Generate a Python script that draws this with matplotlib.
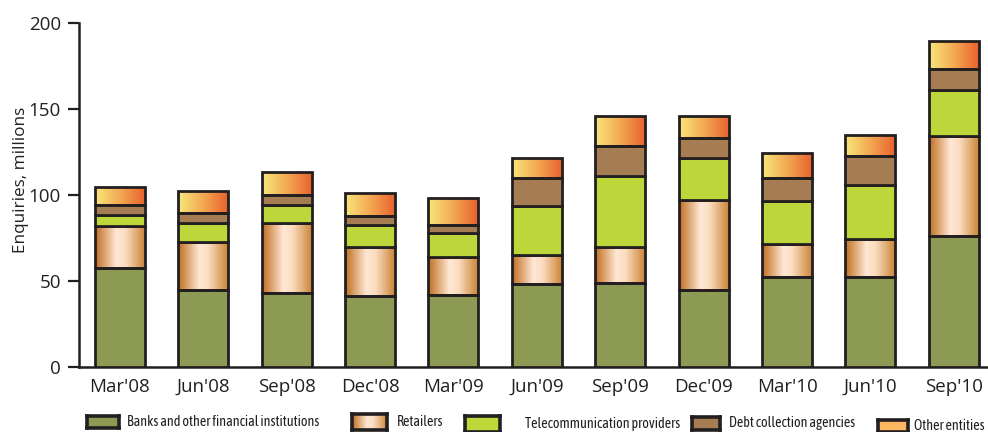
import numpy as np
import matplotlib
matplotlib.use("Agg")
import matplotlib.pyplot as plt
from matplotlib.colors import LinearSegmentedColormap

categories = ["Mar'08", "Jun'08", "Sep'08", "Dec'08", "Mar'09", "Jun'09",
              "Sep'09", "Dec'09", "Mar'10", "Jun'10", "Sep'10"]
banks = [57.7, 44.7, 42.7, 41.0, 41.6, 48.0, 48.7, 44.7, 52.4, 52.0, 76.0]
retailers = [24.5, 27.8, 40.8, 29.0, 22.1, 17.0, 21.3, 52.4, 19.1, 22.3, 58.2]
telecom = [6.4, 11.0, 10.5, 12.5, 14.1, 28.7, 41.3, 24.3, 25.2, 31.7, 27.2]
debt = [5.4, 5.8, 6.0, 5.5, 4.9, 16.0, 17.4, 11.6, 13.0, 16.9, 12.2]
other = [10.4, 12.8, 13.2, 13.0, 15.5, 11.8, 17.1, 13.2, 14.5, 12.0, 15.9]
labels = ["Banks and other financial institutions", "Retailers",
          "Telecommunication providers", "Debt collection agencies", "Other entities"]
yticks = [0, 50, 100, 150, 200]

DARK = "#231f20"
c_bank = "#8c9a54"
c_tel = "#bdd73b"
c_debt = "#a67c52"
c_other_leg = "#fdb760"
cmap_ret = LinearSegmentedColormap.from_list(
    "ret", [(0, "#c06c1e"), (0.42, "#ffe8d4"), (0.6, "#fbdcc0"), (1, "#c9802f")])
cmap_oth = LinearSegmentedColormap.from_list(
    "oth", [(0, "#f8e77a"), (0.5, "#f3a852"), (1, "#e85f2c")])

W, H = 988, 432
fig = plt.figure(figsize=(W / 100, H / 100), dpi=100)
ax = fig.add_axes([79 / W, (H - 366.7) / H, 1 - 79 / W, (366.7 - 23.3) / H])

x = np.arange(len(categories))
w = 0.6
lw = 2.0
grad = np.linspace(0, 1, 256).reshape(1, -1)

bottoms = np.zeros(len(categories))
series = [(banks, c_bank, None), (retailers, "none", cmap_ret),
          (telecom, c_tel, None), (debt, c_debt, None), (other, "none", cmap_oth)]
for vals, col, cmap in series:
    vals = np.array(vals)
    bars = ax.bar(x, vals, w, bottom=bottoms, color=col, edgecolor=DARK,
                  linewidth=lw, zorder=3)
    if cmap is not None:
        for b in bars:
            im = ax.imshow(grad, cmap=cmap, aspect="auto",
                           extent=[b.get_x(), b.get_x() + b.get_width(),
                                   b.get_y(), b.get_y() + b.get_height()],
                           zorder=2, interpolation="bilinear")
            im.set_clip_path(b)
    bottoms = bottoms + vals

ax.set_xlim(-0.49, len(categories) - 0.59)
ax.set_ylim(0, 200)
ax.set_yticks(yticks)
ax.set_xticks(x)
ax.set_xticklabels(categories)
for s in ["top", "right"]:
    ax.spines[s].set_visible(False)
for s in ["left", "bottom"]:
    ax.spines[s].set_linewidth(1.8)
    ax.spines[s].set_color(DARK)
ax.tick_params(axis="y", length=8, width=1.6, color=DARK, pad=5,
               labelsize=13.5, labelcolor=DARK)
ax.tick_params(axis="x", length=0, pad=8, labelsize=13.5, labelcolor=DARK)
for t in ax.get_xticklabels() + ax.get_yticklabels():
    t.set_family(["Open Sans", "DejaVu Sans"])
ax.set_ylabel("Enquiries, millions", fontsize=12.3, family=["Open Sans", "DejaVu Sans"],
              color=DARK)
ax.yaxis.set_label_coords(-(79 - 29) / (W - 79), 0.545)

# legend drawn as swatches + texts along the bottom
sw_boxes = [(87, 119, 416, 428), (352, 387, 414, 430), (465, 500, 416, 432),
            (692, 720, 417, 430), (878, 908, 420, 432)]
txt_x = [127, 397, 525, 729, 914]
sw_fill = [c_bank, cmap_ret, c_tel, c_debt, c_other_leg]
legfam = ["Asap Condensed", "Archivo Narrow", "DejaVu Sans"]
for (x0, x1, y0, y1), fill in zip(sw_boxes, sw_fill):
    sa = fig.add_axes([x0 / W, (H - y1) / H, (x1 - x0) / W, (y1 - y0) / H])
    sa.set_xticks([])
    sa.set_yticks([])
    for sp in sa.spines.values():
        sp.set_linewidth(2.6)
        sp.set_color(DARK)
    if isinstance(fill, str):
        sa.set_facecolor(fill)
    else:
        sa.imshow(grad, cmap=fill, aspect="auto", interpolation="bilinear")

texts = []
for (x0, x1, y0, y1), tx, lab in zip(sw_boxes, txt_x, labels):
    t = fig.text(tx / W, (H - (y0 + y1) / 2) / H, lab, ha="left", va="center",
                 family=legfam, fontsize=11, color=DARK)
    texts.append(t)
fig.canvas.draw()
r = fig.canvas.get_renderer()
wid = texts[0].get_window_extent(r).width
scale = 193.0 / wid
for t in texts:
    t.set_fontsize(11 * scale)

fig.savefig("out.png", dpi=100)
